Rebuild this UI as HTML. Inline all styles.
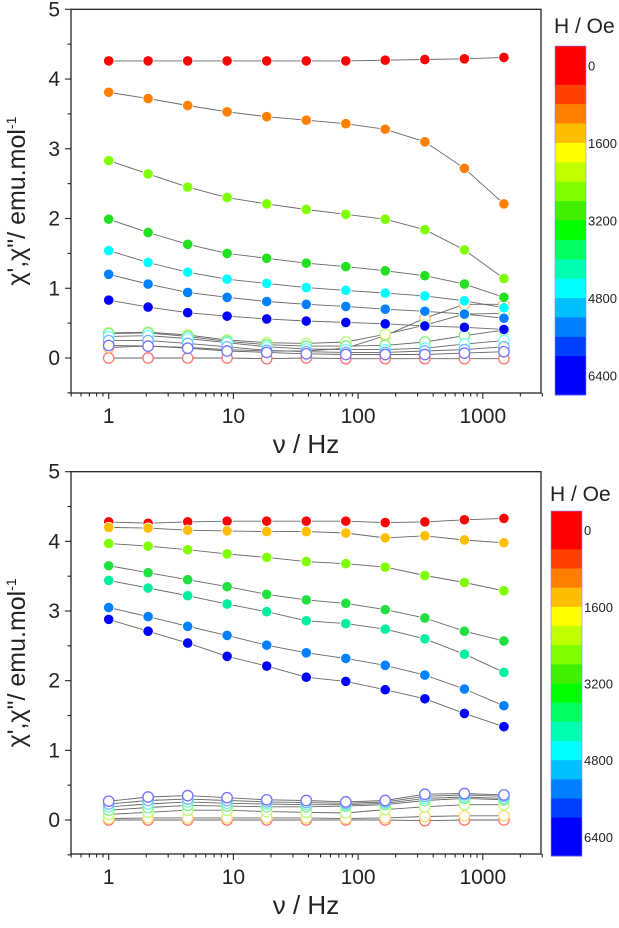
<!DOCTYPE html>
<html><head><meta charset="utf-8"><style>
body{margin:0;background:#fff;width:619px;height:923px;overflow:hidden}
svg text{font-family:"Liberation Sans",sans-serif}
</style></head><body>
<svg id="s" width="619" height="923" xmlns="http://www.w3.org/2000/svg"></svg>
<script>
const freqs=[1,2.07,4.3,8.9,18.5,38.4,79.7,165,343,712,1477];
const yTicks=[0,1,2,3,4,5];
const xTicks=[1,10,100,1000];
const barLabels=['0','1600','3200','4800','6400'];
const topColors=['#ff0000','#ff8000','#80ff00','#20e020','#00ffff','#0080ff','#0000ff'];
const topReal=[
[4.26,4.26,4.26,4.26,4.26,4.26,4.26,4.27,4.28,4.29,4.31],
[3.81,3.72,3.62,3.53,3.46,3.41,3.36,3.28,3.10,2.72,2.21],
[2.83,2.64,2.45,2.30,2.21,2.13,2.06,1.99,1.84,1.55,1.14],
[1.99,1.80,1.63,1.50,1.43,1.36,1.31,1.25,1.18,1.06,0.87],
[1.54,1.37,1.23,1.13,1.07,1.01,0.97,0.93,0.89,0.82,0.72],
[1.20,1.06,0.94,0.87,0.81,0.77,0.74,0.70,0.67,0.63,0.57],
[0.83,0.73,0.65,0.60,0.56,0.53,0.51,0.49,0.46,0.44,0.41]];
const topImag=[
[0,0,0,0,-0.01,0,-0.01,-0.01,-0.01,-0.01,-0.01],
[0.15,0.17,0.15,0.12,0.10,0.10,0.14,0.32,0.57,0.77,0.77],
[0.36,0.37,0.33,0.26,0.22,0.21,0.23,0.34,0.47,0.63,0.64],
[0.35,0.36,0.31,0.24,0.19,0.17,0.17,0.18,0.23,0.32,0.40],
[0.31,0.32,0.28,0.22,0.16,0.13,0.12,0.12,0.14,0.20,0.25],
[0.25,0.25,0.21,0.16,0.11,0.09,0.08,0.08,0.10,0.12,0.16],
[0.18,0.17,0.14,0.10,0.08,0.06,0.05,0.05,0.05,0.07,0.09]];
const botColors=['#ff0000','#ffbf00','#80ff00','#20e040','#00f0a0','#0080ff','#0000ff'];
const botReal=[
[4.28,4.26,4.28,4.29,4.29,4.29,4.29,4.27,4.28,4.31,4.33],
[4.20,4.19,4.16,4.15,4.14,4.14,4.12,4.05,4.08,4.02,3.98],
[3.97,3.93,3.88,3.82,3.77,3.71,3.68,3.63,3.51,3.41,3.29],
[3.65,3.55,3.45,3.35,3.24,3.16,3.11,3.02,2.90,2.71,2.57],
[3.44,3.33,3.22,3.10,2.99,2.86,2.82,2.74,2.60,2.38,2.12],
[3.05,2.92,2.78,2.65,2.51,2.40,2.32,2.22,2.08,1.88,1.64],
[2.88,2.71,2.54,2.35,2.21,2.05,1.99,1.87,1.74,1.53,1.34]];
const botImag=[
[0,0,0,0,0,0,0,0,-0.01,0,0],
[0.02,0.03,0.03,0.03,0.03,0.03,0.02,0.03,0.05,0.06,0.06],
[0.08,0.11,0.14,0.14,0.12,0.11,0.10,0.15,0.19,0.22,0.22],
[0.14,0.18,0.21,0.20,0.19,0.19,0.20,0.22,0.28,0.31,0.29],
[0.19,0.23,0.26,0.24,0.23,0.22,0.22,0.24,0.31,0.33,0.31],
[0.23,0.28,0.30,0.28,0.26,0.25,0.24,0.26,0.34,0.36,0.34],
[0.27,0.33,0.35,0.32,0.29,0.28,0.26,0.28,0.37,0.38,0.36]];
const bandColors=['#ff0000','#ff4000','#ff8000','#ffbf00','#ffff00','#c0ff00','#80ff00','#40f000','#00ff00','#00ff60','#00ffb0','#00ffff','#00c0ff','#0080ff','#0040ff','#0000ff'];

const NS='http://www.w3.org/2000/svg';
const svg=document.getElementById('s');
function el(tag,attrs,parent,txt){const e=document.createElementNS(NS,tag);for(const k in attrs)e.setAttribute(k,attrs[k]);if(txt!==undefined)e.textContent=txt;(parent||svg).appendChild(e);return e;}
function lighten(c){const n=parseInt(c.slice(1),16);let r=n>>16,g=(n>>8)&255,b=n&255;r=Math.round(r+(255-r)*0.45);g=Math.round(g+(255-g)*0.45);b=Math.round(b+(255-b)*0.45);return `rgb(${r},${g},${b})`;}

function panel(name,y5,y0,yBot,cbTop,cbBot,cbX,titleY,real,imag,colors){
  const L=71,R=541;
  const X=f=>108.7+124.7*Math.log10(f);
  const Y=v=>y0+(y5-y0)*v/5;
  const g=el('g',{},svg);
  
  
  const fr=el('rect',{x:L,y:y5,width:R-L,height:yBot-y5,fill:'none',stroke:'#222','stroke-width':1.3},g);
  
  for(let v=-0.5;v<=5.001;v+=0.5){const maj=Math.abs(v-Math.round(v))<0.01;
    el('line',{x1:L-(maj?6:3.5),x2:L,y1:Y(v),y2:Y(v),stroke:'#222','stroke-width':1.1},g);}
  yTicks.forEach(v=>{const t=el('text',{x:L-11,y:Y(v)+7,'text-anchor':'end','font-size':21,fill:'#222'},g,String(v));
    });
  for(let d=-1;d<=3;d++)for(let m=1;m<=9;m++){const f=m*Math.pow(10,d);if(f<0.5||f>3000)continue;
    const x=X(f);el('line',{x1:x,x2:x,y1:yBot,y2:yBot+(m===1?6:3.5),stroke:'#222','stroke-width':1.1},g);}
  xTicks.forEach(f=>{const t=el('text',{x:X(f),y:yBot+30,'text-anchor':'middle','font-size':21,fill:'#222'},g,String(f));
    });
  const xt=el('text',{x:306,y:yBot+60,'text-anchor':'middle','font-size':26,fill:'#222'},g,'ν / Hz');
  
  const yc=(y5+yBot)/2;
  const yt=el('text',{x:0,y:0,transform:`translate(25,${yc}) rotate(-90)`,'text-anchor':'middle','font-size':25,fill:'#222'},g);
  
  el('tspan',{},yt,"χ',χ\"/ emu.mol");el('tspan',{dy:-9,'font-size':14},yt,'-1');
  const drawSeries=(arr,filled,kind)=>arr.forEach((vals,i)=>{
    const pts=vals.map((v,j)=>X(freqs[j]).toFixed(1)+','+Y(v).toFixed(1)).join(' ');
    const pl=el('polyline',{points:pts,fill:'none',stroke:'#666','stroke-width':0.9},g);
    
    vals.forEach((v,j)=>{
      const c=el('circle',{cx:X(freqs[j]),cy:Y(v),r:5.2,fill:filled?colors[i]:'#fff',stroke:filled?'#fff':lighten(colors[i]),'stroke-width':filled?0.8:1.3},g);
      
    });
  });
  drawSeries(imag,false,'chi-imag');
  drawSeries(real,true,'chi-real');
  const cb=el('g',{},g);
  
  const n=bandColors.length, unit=(cbBot-cbTop)/(n+2);
  let yy=cbTop;
  bandColors.forEach((c,i)=>{const h=(i===0||i===n-1)?2*unit:unit;el('rect',{x:cbX,y:yy,width:31,height:h+0.5,fill:c},cb);yy+=h;});
  el('rect',{x:cbX,y:cbTop,width:31,height:cbBot-cbTop,fill:'none',stroke:'#8888ff','stroke-width':0.6},cb);
  barLabels.forEach((s,i)=>{const t=el('text',{x:cbX+33,y:cbTop+unit*(1+4*i)+5,'font-size':13,fill:'#222'},cb,s);
    });
  const ct=el('text',{x:cbX-1,y:titleY,'font-size':21,fill:'#222','text-anchor':'start'},g,'H / Oe');
  
}
panel('top-chart',9.3,358,393,46,395,555,33,topReal,topImag,topColors);
panel('bottom-chart',471.7,820,854,511,856,551,501,botReal,botImag,botColors);
</script>
</body></html>
